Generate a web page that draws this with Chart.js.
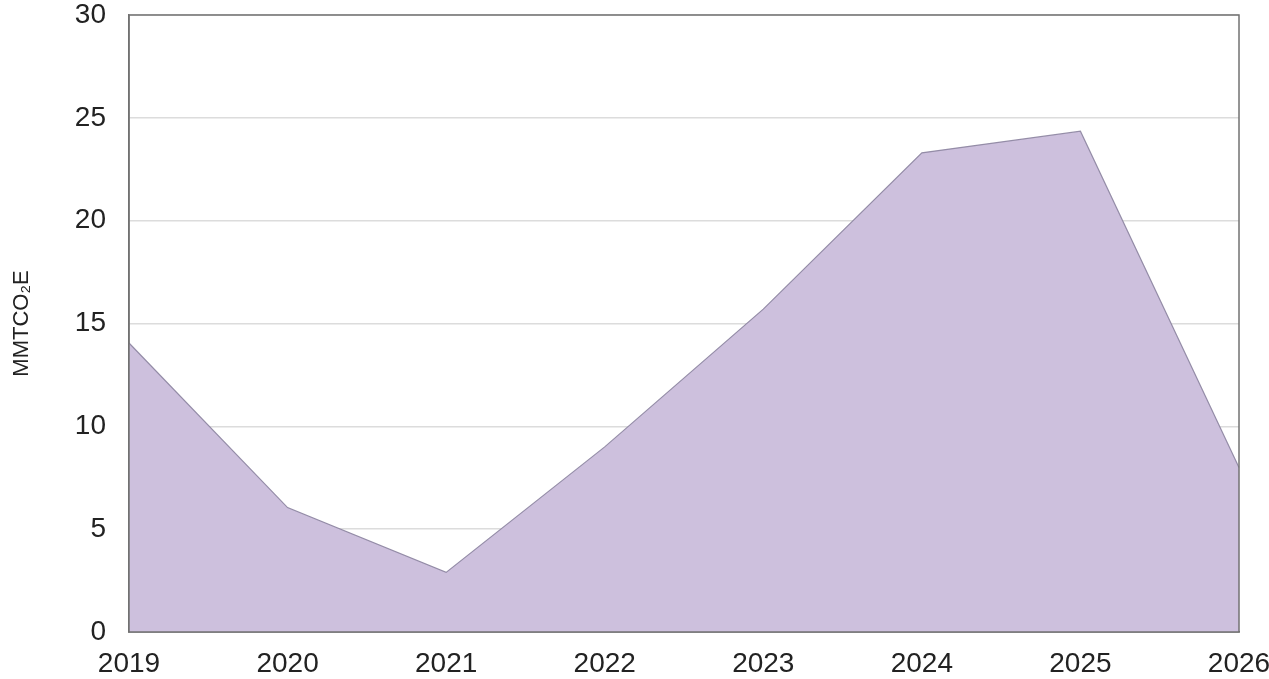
<!DOCTYPE html>
<html>
<head>
<meta charset="utf-8">
<script src="https://cdn.jsdelivr.net/npm/chart.js@4"></script>
<style>
html,body{margin:0;padding:0;background:#fff;}
#wrap{width:1269px;height:679px;position:relative;}
</style>
</head>
<body>
<div id="wrap"><canvas id="c" width="1269" height="679"></canvas></div>
<script>
const years = ['2019','2020','2021','2022','2023','2024','2025','2026'];
const emissions = [14.05, 6.05, 2.9, 9.0, 15.7, 23.3, 24.35, 8.0];
const yTicks = [0, 5, 10, 15, 20, 25, 30];
const yTitle = 'MMTCO\u2082E';

const frame = {
  id: 'frame',
  afterDatasetsDraw(chart) {
    const a = chart.chartArea, ctx = chart.ctx;
    ctx.save();
    ctx.strokeStyle = '#727272';
    ctx.lineWidth = 1.5;
    ctx.strokeRect(a.left, a.top, a.right - a.left, a.bottom - a.top);
    ctx.restore();
  }
};

new Chart(document.getElementById('c'), {
  type: 'line',
  data: {
    labels: years,
    datasets: [{
      data: emissions,
      fill: 'origin',
      backgroundColor: '#cdc0dd',
      borderColor: 'rgba(140,132,160,0.9)',
      borderWidth: 1.2,
      pointRadius: 0,
      tension: 0
    }]
  },
  options: {
    responsive: false,
    animation: false,
    layout: {padding: {left: 9, right: 30, top: 15, bottom: 0}},
    plugins: {legend: {display: false}, tooltip: {enabled: false}},
    scales: {
      x: {
        offset: false,
        grid: {display: false, drawTicks: false},
        border: {display: true, color: '#727272', width: 1.5},
        ticks: {color: '#222', font: {family: 'Liberation Sans', size: 28}, padding: 15, maxRotation: 0},
        afterFit(s) { s.height = 47; s.paddingLeft = 0; s.paddingRight = 0; }
      },
      y: {
        min: 0, max: 30,
        afterBuildTicks(s) { s.ticks = yTicks.map(v => ({value: v})); },
        grid: {color: '#dcdcdc', lineWidth: 1.5, drawTicks: false},
        border: {display: true, color: '#727272', width: 1.5},
        ticks: {color: '#222', font: {family: 'Liberation Sans', size: 28}, padding: 23},
        title: {display: true, text: yTitle, color: '#222', font: {family: 'Liberation Sans', size: 22}, padding: {top: 0, bottom: 0}},
        afterFit(s) { s.width = 120; s.paddingTop = 0; s.paddingBottom = 0; }
      }
    }
  },
  plugins: [frame]
});
</script>
</body>
</html>
